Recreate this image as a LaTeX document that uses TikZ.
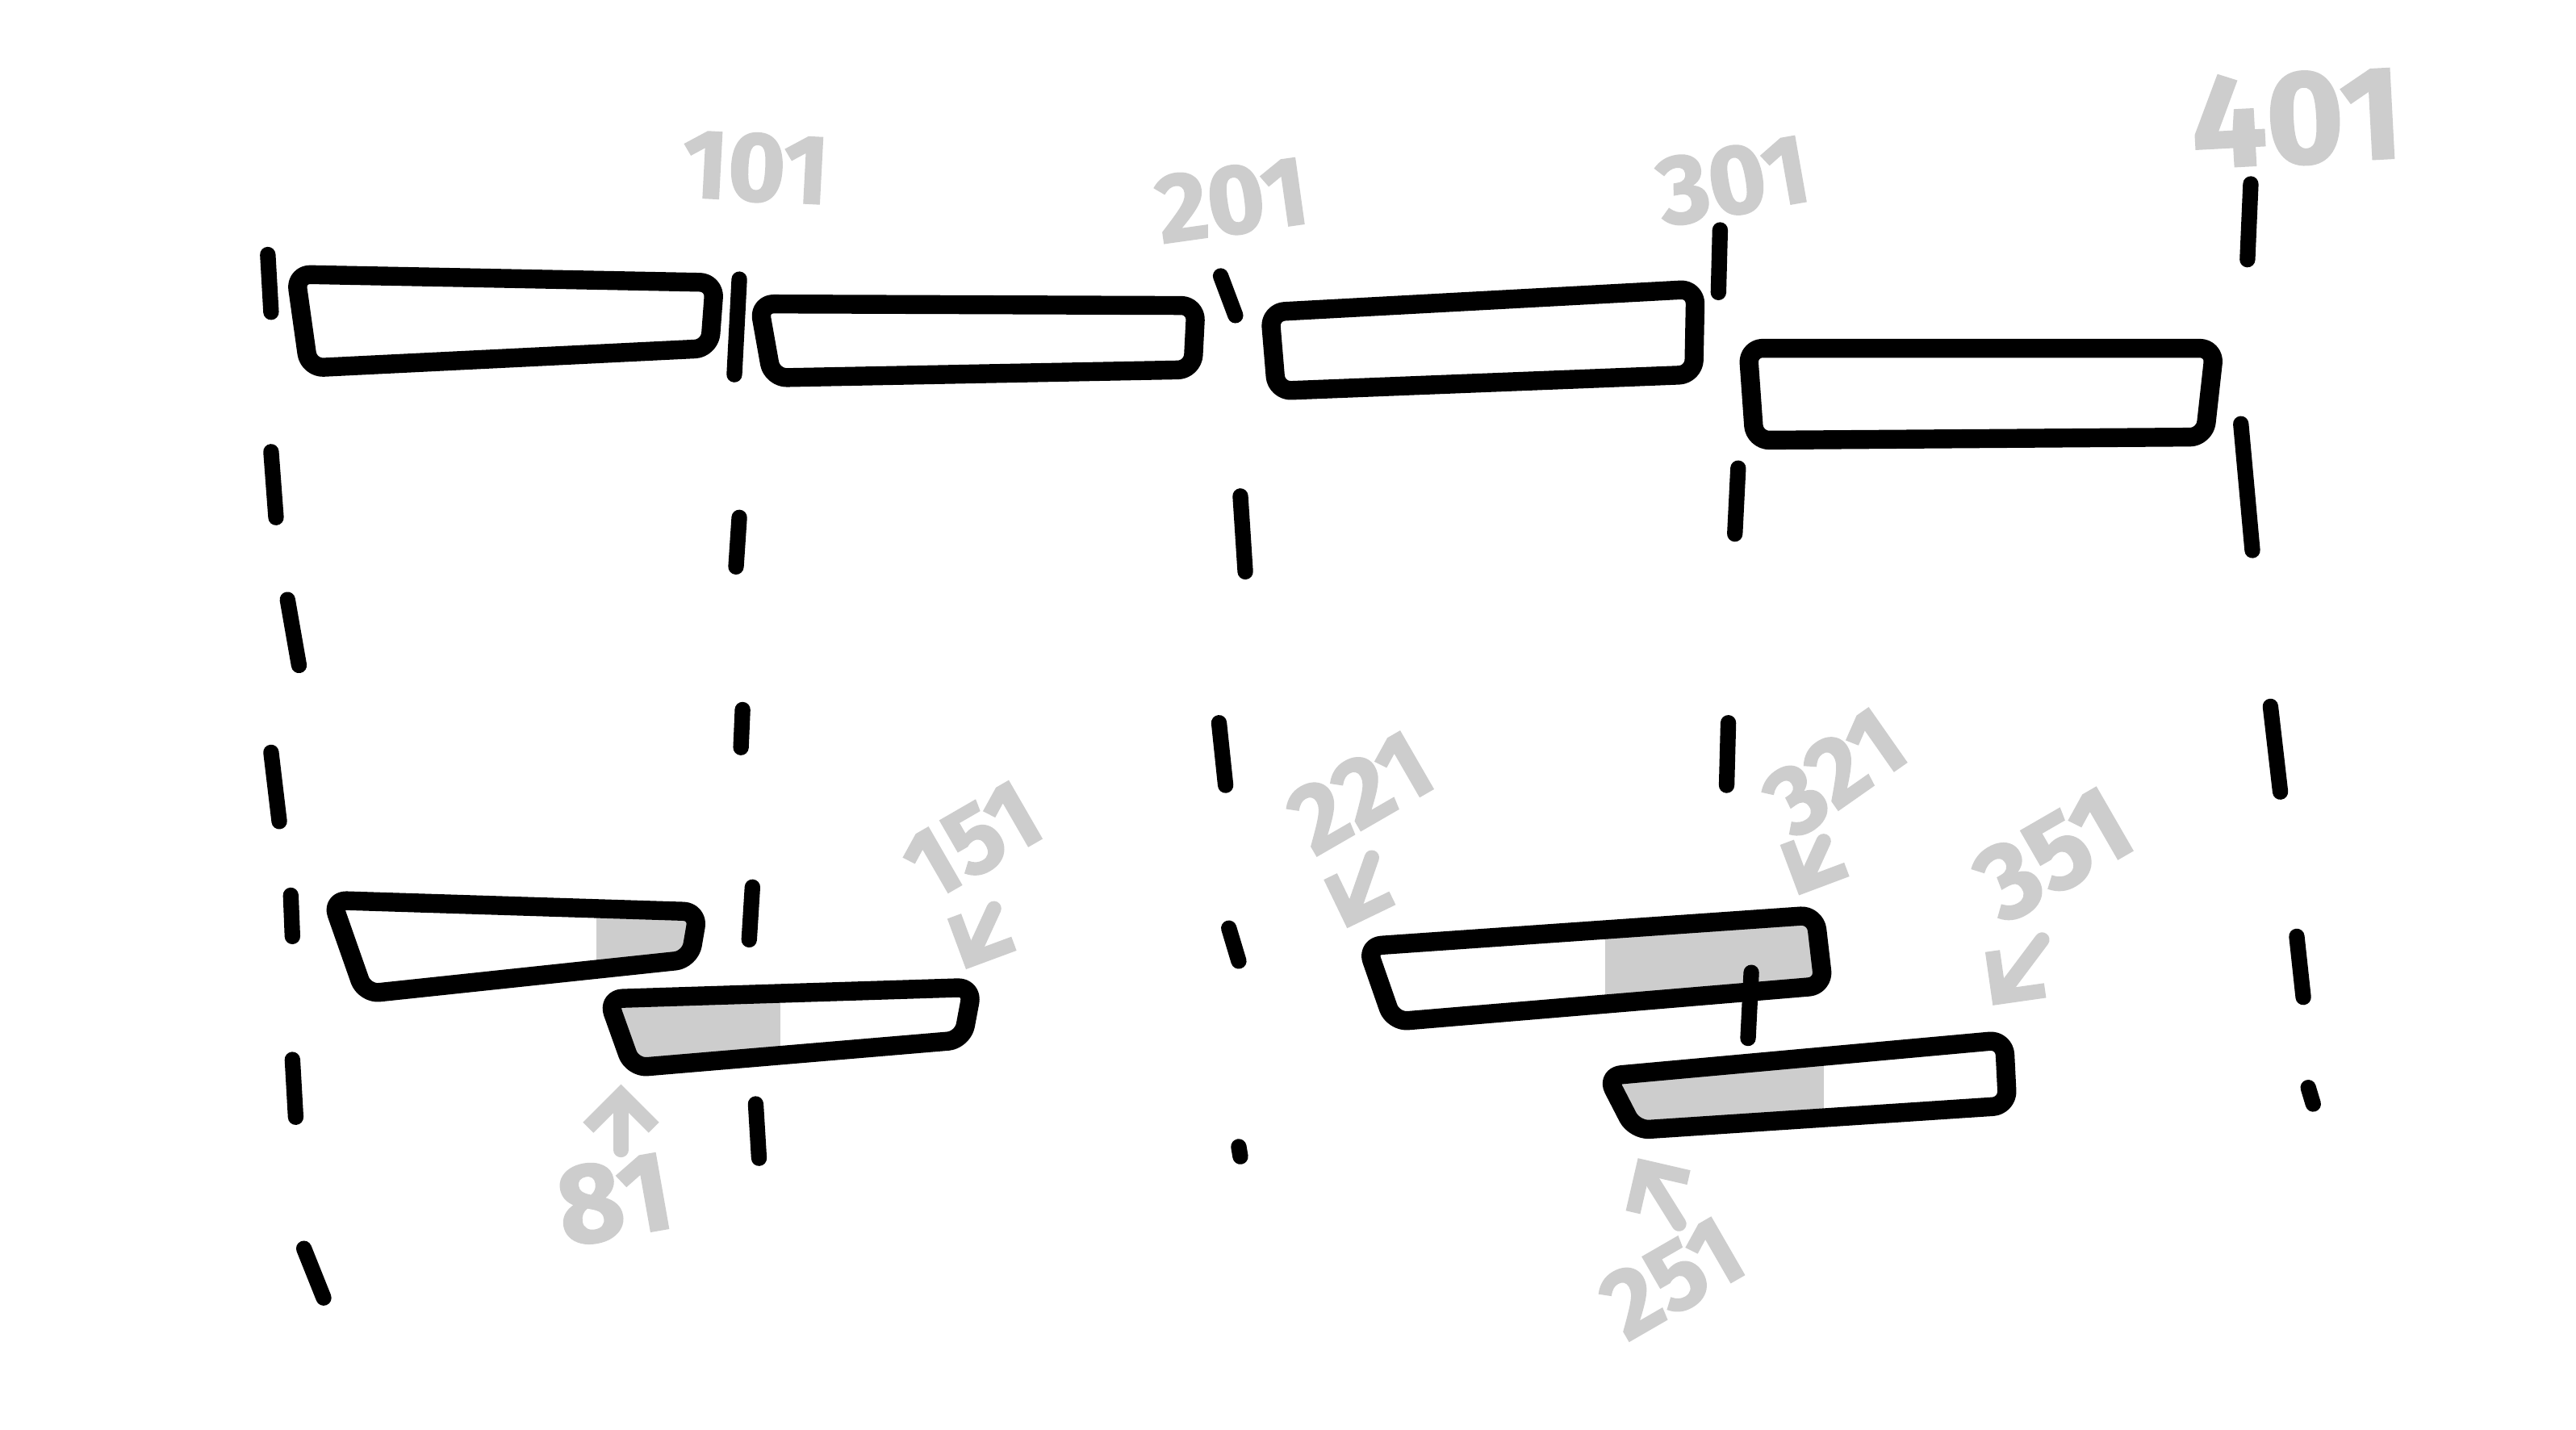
\documentclass[tikz,border=0pt]{standalone}
\usepackage{fontspec}
\newfontfamily\handfont[BoldFeatures={FakeBold=1.5}]{Fira Sans}
\usetikzlibrary{arrows.meta}
\definecolor{pencil}{RGB}{205,205,205}

\tikzset{
  box/.style={line width=2.3mm, rounded corners=1.8mm, line join=round},
  tick/.style={line width=1.9mm, line cap=round},
  overlap/.style={fill=pencil},
  numlabel/.style={text=pencil, inner sep=0pt,
    font=\handfont\bfseries\fontsize{34}{34}\selectfont},
  pointer/.style={draw=pencil, line width=1.8mm, line cap=round,
    line join=round, -{Straight Barb[length=4mm, width=8mm]}},
}

\begin{document}
\begin{tikzpicture}[x=0.2mm, y=-0.2mm]
  \path[fill=white] (0,0) rectangle (1568,870);
  %
  % block corners, first row
  \coordinate (b1-nw) at (180,167);  \coordinate (b1-ne) at (435,172);
  \coordinate (b1-se) at (432,212);  \coordinate (b1-sw) at (188,224);
  \coordinate (b2-nw) at (462,185);  \coordinate (b2-ne) at (728,186);
  \coordinate (b2-se) at (726,225);  \coordinate (b2-sw) at (470,230);
  \coordinate (b3-nw) at (773,190);  \coordinate (b3-ne) at (1032,176);
  \coordinate (b3-se) at (1031,228); \coordinate (b3-sw) at (777,238);
  \coordinate (b4-nw) at (1064,212); \coordinate (b4-ne) at (1348,212);
  \coordinate (b4-se) at (1342,266); \coordinate (b4-sw) at (1068,268);
  % block corners, second row
  \coordinate (bA-nw) at (202,548);  \coordinate (bA-ne) at (425,555);
  \coordinate (bA-se) at (420,584);  \coordinate (bA-sw) at (222,605);
  \coordinate (bB-nw) at (370,608);  \coordinate (bB-ne) at (592,601);
  \coordinate (bB-se) at (586,633);  \coordinate (bB-sw) at (385,650);
  \coordinate (bC-nw) at (832,576);  \coordinate (bC-ne) at (1105,557);
  \coordinate (bC-se) at (1110,600); \coordinate (bC-sw) at (848,622);
  \coordinate (bD-nw) at (978,655);  \coordinate (bD-ne) at (1220,633);
  \coordinate (bD-se) at (1222,673); \coordinate (bD-sw) at (995,688);
  %
  % overlapping parts
  \foreach \b/\xa/\xb in {bA/363/440, bB/360/475, bC/977/1120, bD/970/1110} {
    \begin{scope}
      \clip (\b-nw) -- (\b-ne) -- (\b-se) -- (\b-sw) -- cycle;
      \fill[overlap] (\xa,500) rectangle (\xb,720);
    \end{scope}
  }
  \foreach \b in {b1,b2,b3,b4,bA,bB,bC,bD} {
    \draw[box] (\b-nw) -- (\b-ne) -- (\b-se) -- (\b-sw) -- cycle;
  }
  %
  % boundaries
  \foreach \xa/\ya/\xb/\yb in {
      163/155/165/190, 165/275/168/315, 175/365/182/405, 165/458/170/500,
      177/545/178/570, 178/645/180/680, 185/760/197/790,
      450/170/447/228, 450/315/448/345, 452/432/451/455, 458/540/456/572,
      460/672/462/705,
      743/168/752/192, 755/302/758/348, 742/440/746/478, 748/565/754/585,
      754/698/755/704,
      1047/140/1046/178, 1058/285/1056/325, 1052/440/1051/478,
      1066/592/1064/632,
      1370/112/1368/158, 1364/258/1371/335, 1382/430/1388/482,
      1398/570/1402/607, 1405/662/1408/672} {
    \draw[tick] (\xa,\ya) -- (\xb,\yb);
  }
  %
  % offsets
  \node[numlabel, rotate=-3] (l101) at (460,102) {101};
  \node[numlabel, rotate=8]  (l201) at (750,122) {201};
  \node[numlabel, rotate=10] (l301) at (1055,110) {301};
  \node[numlabel, rotate=3, scale=1.35] (l401) at (1398,72) {401};
  \node[numlabel, rotate=30] (l151) at (592,512) {151};
  \node[numlabel, rotate=30] (l221) at (828,482) {221};
  \node[numlabel, rotate=35] (l321) at (1117,470) {321};
  \node[numlabel, rotate=30, scale=1.1] (l351) at (1250,520) {351};
  \node[numlabel, rotate=10, scale=1.15] (l81)  at (374,730) {81};
  \node[numlabel, rotate=30] (l251) at (1018,778) {251};
  %
  \coordinate (t151) at (605,553);  \coordinate (h151) at (588,590);
  \coordinate (t221) at (835,522);  \coordinate (h221) at (820,565);
  \coordinate (t321) at (1110,512); \coordinate (h321) at (1095,545);
  \coordinate (t351) at (1243,572); \coordinate (h351) at (1213,612);
  \coordinate (t81)  at (378,700);  \coordinate (h81)  at (378,660);
  \coordinate (t251) at (1022,745); \coordinate (h251) at (997,705);
  \foreach \p in {151,221,321,351,81,251} {
    \draw[pointer] (t\p) -- (h\p);
  }
\end{tikzpicture}
\end{document}
